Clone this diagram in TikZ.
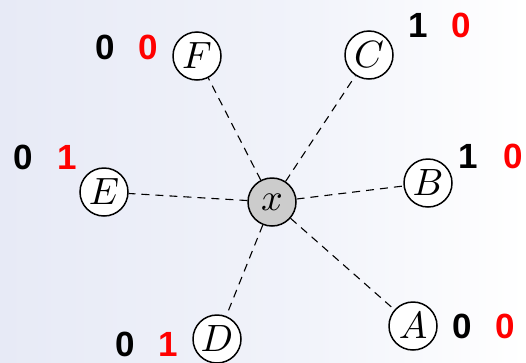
\documentclass[tikz,border=0pt]{standalone}
\usepackage{graphicx}
\usepackage{fontspec}
\newfontfamily\digfont{Liberation Sans}
\definecolor{bgleft}{RGB}{231,234,246}
\definecolor{bgmid}{RGB}{241,243,250}
\definecolor{nodegray}{RGB}{204,204,204}
\definecolor{lblred}{RGB}{255,0,0}
\newcommand{\vtxlabel}[1]{\scalebox{3.8}{$#1$}}
\tikzset{
  vtx/.style={circle, draw=black, line width=1.5pt, fill=white, minimum size=48pt, inner sep=0pt},
  ctr/.style={vtx, fill=nodegray},
  link/.style={draw=black, line width=1.1pt, dash pattern=on 8pt off 6pt},
  bitk/.style={inner sep=0pt, text=black, font=\digfont\bfseries\fontsize{35}{37}\selectfont},
  bitr/.style={bitk, text=lblred}
}
\begin{document}
\begin{tikzpicture}[x=1pt,y=-1pt]
\fill[white] (0,0) rectangle (526,362);
\shade[left color=bgleft, right color=bgmid] (0,0) rectangle (300,362);
\shade[left color=bgmid, right color=white] (300,0) rectangle (526,362);
\useasboundingbox (0,0) rectangle (526,362);
\node[ctr] (x) at (272,202) {\vtxlabel{x}};
\node[vtx] (F) at (197,56) {\vtxlabel{F}};
\node[vtx] (C) at (369,55) {\vtxlabel{C}};
\node[vtx] (B) at (428,183) {\vtxlabel{B}};
\node[vtx] (E) at (104,192) {\vtxlabel{E}};
\node[vtx] (D) at (217,339) {\vtxlabel{D}};
\node[vtx] (A) at (413,326) {\vtxlabel{A}};
\foreach \n in {F,C,B,E,D,A} \draw[link] (x) -- (\n);
\node[bitk] (f0) at (105,47) {0};
\node[bitr] (f1) at (148,47) {0};
\node[bitk] (c0) at (418,25) {1};
\node[bitr] (c1) at (461,25) {0};
\node[bitk] (b0) at (468,156) {1};
\node[bitr] (b1) at (513,156) {0};
\node[bitk] (e0) at (23,157) {0};
\node[bitr] (e1) at (67,157) {1};
\node[bitk] (d0) at (125,344) {0};
\node[bitr] (d1) at (168,344) {1};
\node[bitk] (a0) at (462,326) {0};
\node[bitr] (a1) at (505,326) {0};
\end{tikzpicture}
\end{document}
